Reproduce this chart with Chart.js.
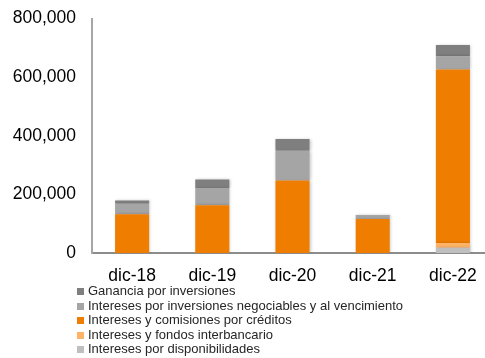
<!DOCTYPE html>
<html>
<head>
<meta charset="utf-8">
<script src="https://cdn.jsdelivr.net/npm/chart.js@4"></script>
<style>
  html, body { margin: 0; padding: 0; background: #fff; overflow: hidden; }
  #wrap { position: absolute; left: 0; top: 0; width: 493px; height: 285px; }
  #legend { position: absolute; left: 77px; top: 284px; font: 13px "Liberation Sans", Arial, sans-serif; color: #262626; }
  #legend div { height: 14.6px; line-height: 14.6px; white-space: nowrap; }
  #legend span { display: inline-block; width: 7px; height: 7px; margin-right: 4px; vertical-align: 0px; }
</style>
</head>
<body>
<div id="wrap"><canvas id="ingresos"></canvas></div>
<div id="legend"></div>
<script>
// Periodos
const periodos = ['dic-18', 'dic-19', 'dic-20', 'dic-21', 'dic-22'];

// Series (miles), de abajo hacia arriba en la pila
const disponibilidades = [0, 0, 0, 0, 18000];
const interbancario = [0, 0, 0, 0, 16000];
const creditos = [132000, 163000, 247000, 116000, 592000];
const invNegociables = [36000, 59000, 102000, 14000, 45000];
const ganancia = [11000, 29000, 40000, 0, 39000];

const yTicks = [0, 200000, 400000, 600000, 800000];

const series = [
  { label: 'Intereses por disponibilidades', data: disponibilidades, color: '#bfbfbf' },
  { label: 'Intereses y fondos interbancario', data: interbancario, color: '#ffb366' },
  { label: 'Intereses y comisiones por créditos', data: creditos, color: '#ef7d00' },
  { label: 'Intereses por inversiones negociables y al vencimiento', data: invNegociables, color: '#a5a5a5' },
  { label: 'Ganancia por inversiones', data: ganancia, color: '#7f7f7f' }
];

// sombra suave en las barras
const barShadow = {
  id: 'barShadow',
  beforeDatasetsDraw(chart) {
    const ctx = chart.ctx;
    ctx.save();
    ctx.shadowColor = 'rgba(0,0,0,0.22)';
    ctx.shadowBlur = 3;
    ctx.shadowOffsetX = 1;
    ctx.shadowOffsetY = 0;
  },
  afterDatasetsDraw(chart) {
    chart.ctx.restore();
  }
};

const chart = new Chart(document.getElementById('ingresos'), {
  type: 'bar',
  data: {
    labels: periodos,
    datasets: series.map(s => ({
      label: s.label,
      data: s.data,
      backgroundColor: s.color,
      borderWidth: 0,
      barPercentage: 0.425,
      categoryPercentage: 1
    }))
  },
  options: {
    responsive: true,
    maintainAspectRatio: false,
    animation: false,
    layout: { padding: { top: 0, right: 0, left: 0, bottom: 0 } },
    scales: {
      x: {
        stacked: true,
        grid: { display: false },
        border: { display: true, color: '#8c8c8c', width: 2 },
        ticks: { color: '#000', padding: 5, font: { family: 'Liberation Sans', size: 17.5 } },
        afterFit(scale) { scale.height = 32; }
      },
      y: {
        stacked: true,
        min: 0,
        max: 800000,
        afterBuildTicks(scale) { scale.ticks = yTicks.map(v => ({ value: v })); },
        grid: { display: false },
        border: { display: true, color: '#a6a6a6', width: 2 },
        ticks: {
          color: '#000',
          padding: 8,
          font: { family: 'Liberation Sans', size: 17.5 },
          callback: v => v.toLocaleString('en-US')
        },
        afterFit(scale) { scale.width = 92; }
      }
    },
    plugins: {
      legend: { display: false },
      tooltip: { enabled: false }
    }
  },
  plugins: [barShadow]
});

// Leyenda en columna, en orden inverso a la pila
const legendEl = document.getElementById('legend');
series.slice().reverse().forEach(s => {
  const row = document.createElement('div');
  row.innerHTML = `<span style="background:${s.color}"></span>${s.label}`;
  legendEl.appendChild(row);
});
</script>
</body>
</html>
